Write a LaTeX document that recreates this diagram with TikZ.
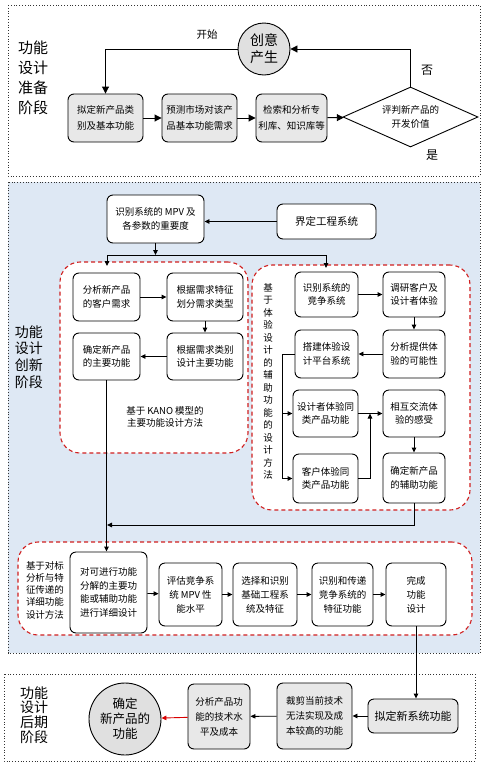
\documentclass[tikz,border=0pt]{standalone}
\usepackage{fontspec}
\setmainfont{Noto Sans CJK SC}
\usetikzlibrary{arrows.meta,shapes.geometric,calc}
\newcommand\fsz[2]{\fontsize{#1}{#2}\selectfont}
\definecolor{bgblue}{HTML}{DEE8F4}
\definecolor{boxgray}{HTML}{E8E8E8}
\definecolor{circgray}{HTML}{E0E0E0}
\definecolor{dashred}{HTML}{D02020}
\begin{document}
\begin{tikzpicture}[x=1pt,y=-1pt,
  every node/.style={inner sep=1pt},
  sect/.style={draw=black!80, dotted, line width=0.8pt},
  region/.style={draw=dashred, dash pattern=on 4pt off 3pt, line width=1.1pt, rounded corners=20pt, fill=white},
  box/.style={draw, rounded corners=6pt, line width=0.9pt, align=center, fill=white, font=\fsz{9.5}{13.3}},
  gbox/.style={box, fill=boxgray},
  tbox/.style={box, fill=boxgray, font=\fsz{9.5}{16.5}},
  lab/.style={align=center},
  arrT/.style={line width=0.9pt, -{Triangle[length=7pt,width=7pt]}},
  arr/.style={line width=0.9pt, -{Triangle[length=5pt,width=4.5pt]}},
  ln/.style={line width=0.9pt}
]
\useasboundingbox (0,0) rectangle (488,769);
\fill[white] (0,0) rectangle (488,769);

% ---------- top section ----------
\draw[sect] (8,5) rectangle (480,176);
\node[lab, font=\fsz{15}{20}] (tl) at (33,78) {功能\\设计\\准备\\阶段};
\node[draw, circle, fill=circgray, line width=0.9pt, minimum size=52pt, align=center, font=\fsz{14}{17}] (c1) at (264,49) {创意\\产生};
\node[tbox, minimum width=75pt, minimum height=48pt] (n1) at (105.5,118) {拟定新产品类\\别及基本功能};
\node[tbox, minimum width=75pt, minimum height=48pt] (n2) at (199.5,118) {预测市场对该产\\品基本功能需求};
\node[tbox, minimum width=71pt, minimum height=48pt] (n3) at (291.5,118) {检索和分析专\\利库、知识库等};
\node[draw, diamond, aspect=2.25, minimum width=135pt, minimum height=60pt, inner sep=0pt, line width=0.9pt, fill=white, align=center, font=\fsz{9.5}{14}] (d) at (410.5,117) {评判新产品的\\开发价值};
\node[font=\fsz{10.5}{12}] (ks) at (207,35) {开始};
\node[font=\fsz{12}{14}] (fou) at (427,70) {否};
\node[font=\fsz{12}{14}] (shi) at (432,155) {是};
\draw[arrT] (c1.west) -| (n1.north);
\draw[arrT] (n1) -- (n2);
\draw[arrT] (n2) -- (n3);
\draw[arrT] (n3) -- (d);
\draw[arrT] (d.north) |- (c1.east);

% ---------- middle section ----------
\draw[sect, fill=bgblue] (8,182) rectangle (480,653);
\node[lab, font=\fsz{14}{16.7}] (ml) at (29,357) {功能\\设计\\创新\\阶段};
\node[box, minimum width=97pt, minimum height=48pt] (m1) at (155.5,219) {识别系统的 MPV 及\\各参数的重要度};
\node[box, minimum width=99pt, minimum height=35pt, font=\fsz{10.5}{13}] (m2) at (326.5,221.5) {界定工程系统};
\draw[arr] (m2.west) -- (m1.east |- m2.west);

\node[region, minimum width=188pt, minimum height=191pt] (L) at (154,357.5) {};
\node[region, minimum width=218pt, minimum height=245pt] (R) at (361,387.5) {};

\coordinate (sp) at (155.5,255);
\coordinate (la) at (107,266);
\coordinate (ra) at (326,268);
\draw[arr] (m1.south) -- (sp);
\draw[arr] (sp) -| (la);
\draw[arr] (sp) -| (ra);

% left region
\node[box, minimum width=67pt, minimum height=48pt] (a1) at (106.5,297) {分析新产品\\的客户需求};
\node[box, minimum width=76pt, minimum height=48pt] (a2) at (205,297) {根据需求特征\\划分需求类型};
\node[box, minimum width=76pt, minimum height=47pt] (a3) at (205,356.5) {根据需求类别\\设计主要功能};
\node[box, minimum width=67pt, minimum height=47pt] (a4) at (106.5,356.5) {确定新产品\\的主要功能};
\node[lab, font=\fsz{9.5}{12.5}] (kano) at (165,417) {基于 KANO 模型的\\主要功能设计方法};
\draw[arr] (a1) -- (a2);
\draw[arr] (a2) -- (a3);
\draw[arr] (a3) -- (a4);

% right region
\node[box, minimum width=63pt, minimum height=45pt] (b1) at (326.5,294.5) {识别系统的\\竞争系统};
\node[box, minimum width=62pt, minimum height=45pt] (b2) at (414,294.5) {调研客户及\\设计者体验};
\node[box, minimum width=62pt, minimum height=48pt] (b3) at (414,354) {分析提供体\\验的可能性};
\node[box, minimum width=63pt, minimum height=48pt] (b4) at (326.5,354) {搭建体验设\\计平台系统};
\node[box, minimum width=65pt, minimum height=47pt] (b5) at (325.5,413.5) {设计者体验同\\类产品功能};
\node[box, minimum width=62pt, minimum height=47pt] (b6) at (414,413.5) {相互交流体\\验的感受};
\node[box, minimum width=65pt, minimum height=49pt] (b7) at (325.5,478.5) {客户体验同\\类产品功能};
\node[box, minimum width=62pt, minimum height=50pt] (b8) at (414,478) {确定新产品\\的辅助功能};
\node[lab, font=\fsz{9.5}{12.5}] (vt) at (268,381.5) {基\\于\\体\\验\\设\\计\\的\\辅\\助\\功\\能\\的\\设\\计\\方\\法};
\draw[arr] (b1) -- (b2);
\draw[arr] (b2) -- (b3);
\draw[arr] (b3) -- (b4);
\coordinate (vb) at (282,478.5);
\draw[ln] (b4.west) -| (vb);
\draw[arr] (vb) -- (b7.west);
\draw[arr] (b5.west -| vb) -- (b5.west);
\draw[arr] (b5) -- (b6);
\coordinate (jn) at (370,413.5);
\draw[arr] (b7.east) -| (jn);
\draw[arr] (b6) -- (b8);

% detail region
\node[region, minimum width=454pt, minimum height=93pt] (D) at (245,588.5) {};
\node[lab, font=\fsz{9.5}{12.2}] (dl) at (45,590) {基于对标\\分析与特\\征传递的\\详细功能\\设计方法};
\node[box, minimum width=77pt, minimum height=81pt, font=\fsz{9.5}{13.7}] (e1) at (108.5,592.5) {对可进行功能\\分解的主要功\\能或辅助功能\\进行详细设计};
\node[box, minimum width=63pt, minimum height=63pt, font=\fsz{9.5}{14}] (e2) at (190.5,594.5) {评估竞争系\\统 MPV 性\\能水平};
\node[box, minimum width=64pt, minimum height=63pt, font=\fsz{9.5}{14}] (e3) at (265,594.5) {选择和识别\\基础工程系\\统及特征};
\node[box, minimum width=61pt, minimum height=63pt, font=\fsz{9.5}{14}] (e4) at (342.5,594.5) {识别和传递\\竞争系统的\\特征功能};
\node[box, minimum width=60pt, minimum height=63pt, font=\fsz{9.5}{14}] (e5) at (416,594.5) {完成\\功能\\设计};
\coordinate (hj) at (107,525);
\draw[arr] (b8.south) |- (hj);
\draw[arr] (a4.south) -- (a4.south |- e1.north);
\draw[arr] (e1) -- (e2);
\draw[arr] (e2) -- (e3);
\draw[arr] (e3) -- (e4);
\draw[arr] (e4) -- (e5);

% ---------- bottom section ----------
\draw[sect, fill=white] (4,674) rectangle (475,761);
\node[lab, font=\fsz{14}{14.7}] (bl) at (34,715) {功能\\设计\\后期\\阶段};
\node[draw, circle, fill=circgray, line width=0.9pt, minimum size=72pt, align=center, font=\fsz{12.5}{15}] (g0) at (125,719) {确定\\新产品的\\功能};
\node[gbox, minimum width=62pt, minimum height=65pt, font=\fsz{9.5}{15}] (g1) at (219,716.5) {分析产品功\\能的技术水\\平及成本};
\node[gbox, minimum width=75pt, minimum height=66pt, font=\fsz{9.5}{15}] (g2) at (314.5,716) {裁剪当前技术\\无法实现及成\\本较高的功能};
\node[gbox, minimum width=90pt, minimum height=34pt, font=\fsz{11}{13}] (f1) at (413,716) {拟定新系统功能};
\draw[arr] (e5.south) -- (e5.south |- f1.north);
\draw[arr] (f1) -- (g2);
\draw[arr] (g2) -- (g1);
\draw[arr, draw=red!85!black] (g1) -- (g0);
\end{tikzpicture}
\end{document}
